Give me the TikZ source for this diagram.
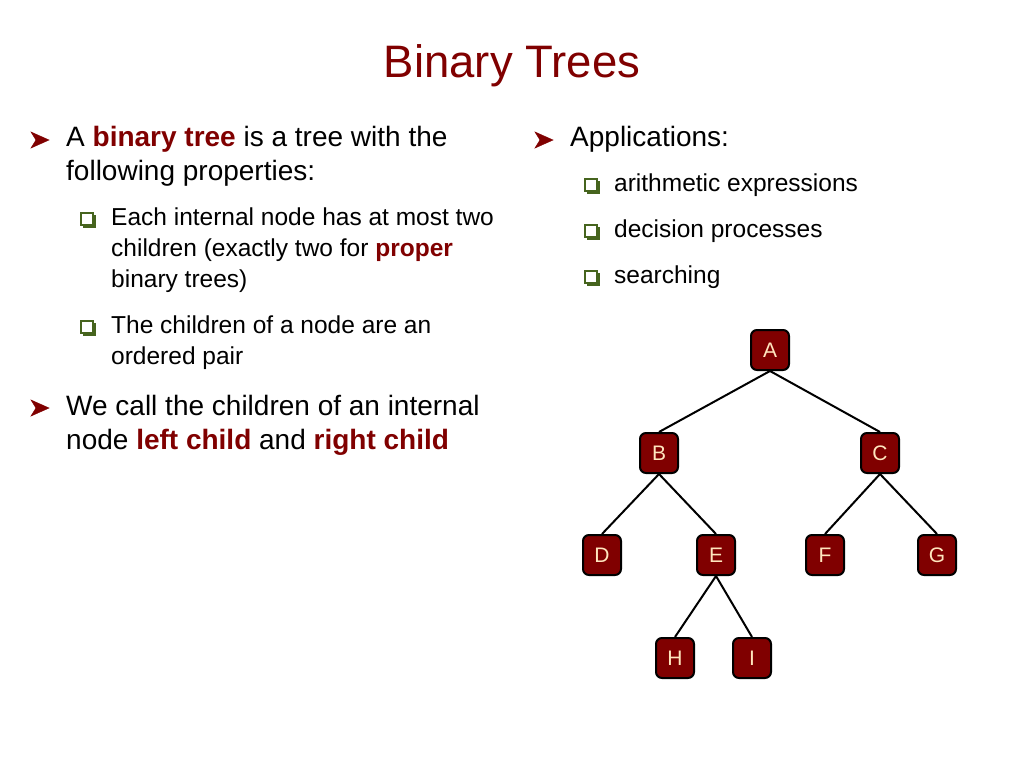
\documentclass[tikz,border=0pt]{standalone}
\usepackage{fontspec}
\setmainfont{Liberation Sans}
\definecolor{dred}{RGB}{128,0,0}
\definecolor{lbl}{RGB}{255,230,190}
\definecolor{bgreen}{RGB}{70,100,30}
\begin{document}
\begin{tikzpicture}[x=1pt,y=-1pt,
  tn/.style={draw=black,line width=2pt,fill=dred,rounded corners=6pt,minimum width=38pt,minimum height=40pt,text=lbl,font=\fontsize{21}{21}\selectfont,inner sep=0pt},
  edge/.style={line width=2pt},
  big/.style={anchor=north west,align=left,inner sep=0pt,font=\fontsize{28}{34}\selectfont},
  small/.style={anchor=north west,align=left,inner sep=0pt,font=\fontsize{24.5}{31}\selectfont},
  arrb/.style={fill=dred,draw=dred,line width=0.5pt},
  chk/.style={draw=bgreen,line width=1.2pt,fill=white}]
\useasboundingbox (0,0) rectangle (1024,768);
\newcommand{\arrbul}[2]{\fill[arrb] (#1-9,#2-8) -- (#1+9,#2) -- (#1-9,#2+8) -- (#1-4,#2) -- cycle;}
\newcommand{\chkbul}[2]{\fill[bgreen] (#1-5,#2-5) rectangle (#1+8,#2+8);\draw[chk] (#1-7,#2-7) rectangle (#1+5,#2+5);}
\node[anchor=center,text=dred,font=\fontsize{45.5}{45}\selectfont] (title) at (512,66) {Binary Trees};
% left column
\arrbul{40}{140}
\node[big] (t1) at (66,126) {A \textbf{\color{dred}binary tree} is a tree with the\\following properties:};
\chkbul{88}{220}
\node[small] (t2) at (111,208) {Each internal node has at most two\\children (exactly two for \textbf{\color{dred}proper}\\binary trees)};
\chkbul{88}{328}
\node[small] (t3) at (111,316) {The children of a node are an\\ordered pair};
\arrbul{40}{408}
\node[big] (t4) at (66,395) {We call the children of an internal\\node \textbf{\color{dred}left child} and \textbf{\color{dred}right child}};
% right column
\arrbul{544}{140}
\node[big] (t5) at (570,126) {Applications:};
\chkbul{592}{186}
\node[small] (a1) at (614,174) {arithmetic expressions};
\chkbul{592}{232}
\node[small] (a2) at (614,220) {decision processes};
\chkbul{592}{278}
\node[small] (a3) at (614,266) {searching};
% tree
\node[tn] (A) at (770,350) {A};
\node[tn] (B) at (659,453) {B};
\node[tn] (C) at (880,453) {C};
\node[tn] (D) at (602,555) {D};
\node[tn] (E) at (716,555) {E};
\node[tn] (F) at (825,555) {F};
\node[tn] (G) at (937,555) {G};
\node[tn] (H) at (675,658) {H};
\node[tn] (I) at (752,658) {I};
\foreach \p/\c in {A/B,A/C,B/D,B/E,C/F,C/G,E/H,E/I}
  \draw[edge] (\p.south) -- (\c.north);
\end{tikzpicture}
\end{document}
